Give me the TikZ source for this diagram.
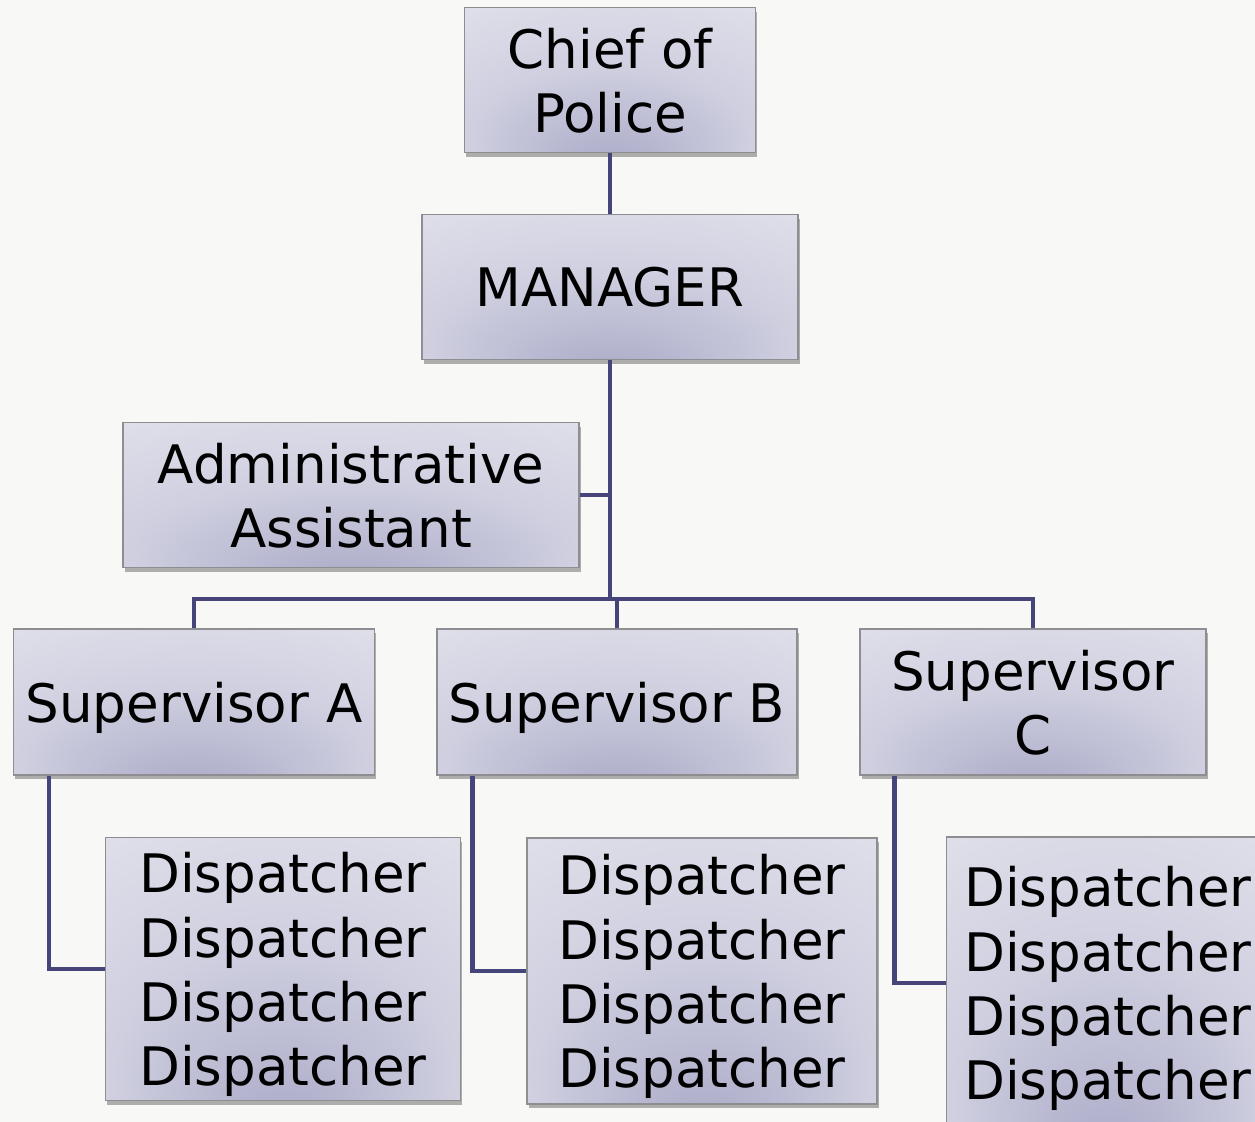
\documentclass[tikz,border=0pt]{standalone}
\usepackage{fontspec}
\setmainfont{DejaVu Sans}
\usepackage{tikz}
\usetikzlibrary{shadows}
\usepackage{xcolor}
\definecolor{paper}{HTML}{F8F8F6}
\definecolor{slateline}{HTML}{45457A}
\definecolor{boxedge}{HTML}{8E8E92}
\definecolor{lavdeep}{HTML}{A9A9C7}
\definecolor{lavmid}{HTML}{CFCFE0}
\definecolor{lavlight}{HTML}{EFEFF4}
\pgfdeclareradialshading{orgshade}{\pgfpoint{0bp}{-32bp}}{color(0bp)=(lavdeep); color(24bp)=(lavmid); color(62bp)=(lavlight)}

\begin{document}
\begin{tikzpicture}[x=0.02cm,y=-0.02cm]
\tikzstyle{orgbox}=[draw=boxedge,line width=0.7pt,shading=orgshade,align=center,inner sep=2pt,
  font=\fontsize{30.2}{36.5}\selectfont,text depth=-5pt,
  drop shadow={shadow xshift=1pt,shadow yshift=-2.5pt,fill=black,opacity=0.3}]
\tikzstyle{link}=[draw=slateline,line width=2.6pt]
\useasboundingbox (0,0) rectangle (1255,1122);
\clip (0,0) rectangle (1255,1122);
\fill[paper] (0,0) rectangle (1255,1122);
% top of the chart
\node[orgbox,minimum width=5.82cm,minimum height=2.9cm] (chief) at (610,80) {Chief of\\Police};
\node[orgbox,minimum width=7.52cm,minimum height=2.9cm] (manager) at (610,287) {MANAGER};
\node[orgbox,minimum width=9.12cm,minimum height=2.9cm] (assistant) at (351,495) {Administrative\\Assistant};
% supervisors
\node[orgbox,minimum width=7.22cm,minimum height=2.92cm] (supa) at (194,702) {Supervisor A};
\node[orgbox,minimum width=7.2cm,minimum height=2.92cm] (supb) at (617,702) {Supervisor B};
\node[orgbox,minimum width=6.92cm,minimum height=2.92cm] (supc) at (1033,702) {Supervisor\\C};
% dispatchers
\node[orgbox,minimum width=7.1cm,minimum height=5.26cm] (dispa) at (283,969) {Dispatcher\\Dispatcher\\Dispatcher\\Dispatcher};
\node[orgbox,minimum width=7.0cm,minimum height=5.32cm] (dispb) at (702,971) {Dispatcher\\Dispatcher\\Dispatcher\\Dispatcher};
\node[orgbox,minimum width=6.46cm,minimum height=5.84cm] (dispc) at (1108,983) {Dispatcher\\Dispatcher\\Dispatcher\\Dispatcher};
% lines
\coordinate (bus) at (610,599);
\draw[link] (chief) -- (manager);
\draw[link] (manager) -- (bus);
\draw[link] (assistant.east) -- (assistant.east -| bus);
\draw[link] (supa.north) |- (bus) -| (supc.north);
\draw[link] (supb.north) -- (supb.north |- bus);
\draw[link] ([xshift=0.72cm]supa.south west) |- (dispa.west);
\draw[link] ([xshift=0.72cm]supb.south west) |- (dispb.west);
\draw[link] ([xshift=0.7cm]supc.south west) |- (dispc.west);
\end{tikzpicture}
\end{document}
